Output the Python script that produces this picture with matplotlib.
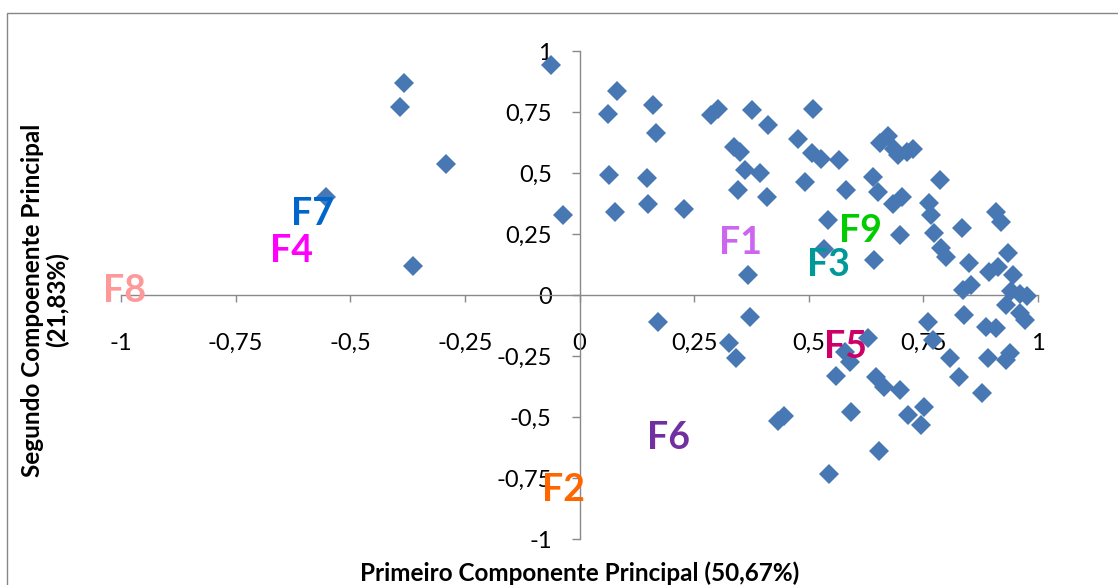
import matplotlib.pyplot as plt
from matplotlib.patches import Rectangle

plt.rcParams['font.family'] = ['Lato', 'DejaVu Sans']

# scores (PC1, PC2)
pc1 = [-0.062, -0.382, -0.391, -0.291, -0.552, -0.364, -0.036,
       0.082, 0.062, 0.161, 0.167, 0.065, 0.147, 0.078, 0.150, 0.228,
       0.287, 0.303, 0.376, 0.412, 0.509, 0.476, 0.337, 0.350, 0.361,
       0.393, 0.345, 0.408, 0.492, 0.507, 0.527, 0.565, 0.542, 0.534,
       0.367, 0.655, 0.672, 0.685, 0.695, 0.715, 0.728, 0.640, 0.582,
       0.651, 0.683, 0.703, 0.698, 0.643, 0.787, 0.763, 0.767, 0.774,
       0.789, 0.800, 0.835, 0.849, 0.836, 0.854, 0.909, 0.920, 0.934,
       0.894, 0.912, 0.945, 0.942, 0.960, 0.976, 0.930, 0.960, 0.971,
       0.838, 0.887, 0.909, 0.760, 0.771, 0.629, 0.578, 0.589, 0.560,
       0.807, 0.891, 0.930, 0.938, 0.827, 0.877, 0.647, 0.665, 0.698,
       0.593, 0.716, 0.745, 0.752, 0.654, 0.545, 0.172, 0.372, 0.327,
       0.342, 0.432, 0.445]
pc2 = [0.943, 0.868, 0.772, 0.537, 0.403, 0.119, 0.328,
       0.837, 0.742, 0.779, 0.665, 0.492, 0.478, 0.339, 0.373, 0.351,
       0.738, 0.762, 0.758, 0.697, 0.761, 0.638, 0.608, 0.586, 0.512,
       0.499, 0.430, 0.400, 0.464, 0.583, 0.557, 0.553, 0.307, 0.187,
       0.082, 0.625, 0.650, 0.600, 0.572, 0.588, 0.598, 0.485, 0.430,
       0.424, 0.372, 0.400, 0.246, 0.143, 0.471, 0.378, 0.328, 0.253,
       0.191, 0.157, 0.273, 0.130, 0.020, 0.040, 0.341, 0.300, 0.171,
       0.096, 0.116, 0.082, 0.018, 0.005, -0.005, -0.041, -0.075, -0.102,
       -0.082, -0.130, -0.137, -0.109, -0.184, -0.178, -0.232, -0.273, -0.331,
       -0.260, -0.260, -0.266, -0.239, -0.335, -0.400, -0.335, -0.376, -0.389,
       -0.478, -0.492, -0.533, -0.458, -0.639, -0.735, -0.109, -0.091, -0.198,
       -0.260, -0.515, -0.497]

# factor labels and where they sit
f_names = ['F1', 'F2', 'F3', 'F4', 'F5', 'F6', 'F7', 'F8', 'F9']
f_x = [0.351, -0.035, 0.543, -0.628, 0.580, 0.194, -0.582, -0.992, 0.613]
f_y = [0.215, -0.800, 0.125, 0.180, -0.215, -0.585, 0.330, 0.015, 0.262]
f_colors = ['#CC66EE', '#FF6600', '#009999', '#FF00FF', '#CC0066',
            '#7030A0', '#0066CC', '#FF9999', '#00CC00']

ticks = [-1, -0.75, -0.5, -0.25, 0, 0.25, 0.5, 0.75, 1]
tick_labels = ['-1', '-0,75', '-0,5', '-0,25', '0', '0,25', '0,5', '0,75', '1']

fig = plt.figure(figsize=(11.18, 5.85), dpi=100)
ax = fig.add_axes([121 / 1118, 1 - 539 / 585, (1038 - 121) / 1118, (539 - 51) / 585])

ax.plot(pc1, pc2, 'D', color='#4878B4', markersize=10, markeredgewidth=0,
        clip_on=False, zorder=3)

for name, x, y, c in zip(f_names, f_x, f_y, f_colors):
    ax.text(x, y, name, color=c, fontsize=27, fontweight='bold',
            ha='center', va='center', zorder=4)

ax.set_xlim(-1, 1)
ax.set_ylim(-1, 1)
ax.spines['left'].set_position(('data', 0))
ax.spines['bottom'].set_position(('data', 0))
ax.spines['top'].set_visible(False)
ax.spines['right'].set_visible(False)
for s in ('left', 'bottom'):
    ax.spines[s].set_color('#898989')
    ax.spines[s].set_linewidth(1)

ax.set_xticks(ticks)
ax.set_xticklabels(tick_labels)
ax.set_yticks(ticks)
ax.set_yticklabels(tick_labels)
ax.tick_params(axis='x', direction='out', length=5, width=1, color='#898989',
               pad=22, labelsize=17)
ax.tick_params(axis='y', direction='out', length=6, width=1, color='#898989',
               pad=14, labelsize=17)
ax.patch.set_visible(False)

fig.text(580 / 1118, 1 - 573 / 585, 'Primeiro Componente Principal (50,67%)',
         ha='center', va='center', fontsize=17.5, fontweight='bold')
fig.text(45 / 1118, 1 - 300 / 585, 'Segundo Compoenente Principal\n(21,83%)',
         ha='center', va='center', rotation=90, multialignment='center',
         fontsize=17.5, fontweight='bold', linespacing=1.05)

# chart area border (only left and top visible)
fig.add_artist(Rectangle((7 / 1118, -0.1), 1.2, 1.1 - 13 / 585,
                         transform=fig.transFigure, fill=False,
                         edgecolor='#868686', linewidth=1))

fig.savefig('out.png', dpi=100)
